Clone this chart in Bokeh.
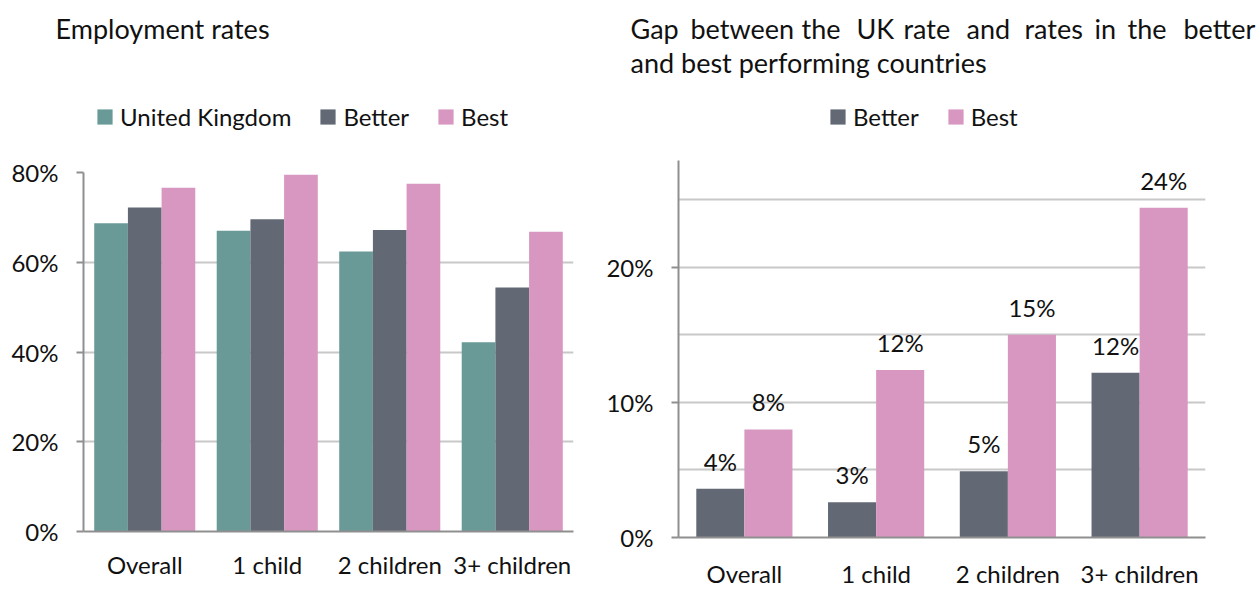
import re
from bokeh.plotting import figure
from bokeh.models import (FactorRange, Range1d, FixedTicker, PrintfTickFormatter,
                          Legend, LegendItem, Label, ColumnDataSource)
from bokeh.transform import dodge
from bokeh.core.properties import value
from bokeh.embed import file_html
from bokeh.resources import INLINE

# ---- data ----
categories = ["Overall", "1 child", "2 children", "3+ children"]
uk_rate = [68.7, 67.0, 62.4, 42.2]
better_rate = [72.2, 69.6, 67.2, 54.4]
best_rate = [76.6, 79.5, 77.5, 66.8]
better_gap = [3.6, 2.6, 4.9, 12.2]
best_gap = [8.0, 12.4, 15.0, 24.4]
better_gap_labels = ["4%", "3%", "5%", "12%"]
best_gap_labels = ["8%", "12%", "15%", "24%"]
left_ticks = [0, 20, 40, 60, 80]
right_ticks = [0, 10, 20]
right_grid = [5, 10, 15, 20, 25]
left_title = "Employment rates"
right_title_1 = "Gap between the UK rate and rates in the better"
right_title_2 = "and best performing countries"

FONT = "Lato"
FS = "24px"
TFS = "27px"
TEAL = "#699a98"
SLATE = "#626874"
PINK = "#d897c1"
GRID = "#c8c8c8"
AXIS = "#8f8f8f"
TXT = "#111111"
LW, RW, HH, PH = 600, 658, 148, 442
# word start offsets (px) used to justify the first line of the right sub-title
JUSTIFY_X = [0, 60, 171, 226, 273, 336, 394, 464, 497, 553]


def style(p):
    p.outline_line_color = None
    p.xgrid.grid_line_color = None
    p.ygrid.grid_line_color = GRID
    p.ygrid.grid_line_width = 2
    for ax in (p.xaxis, p.yaxis):
        ax.axis_line_color = AXIS
        ax.axis_line_width = 2
        ax.major_label_text_font = FONT
        ax.major_label_text_font_size = FS
        ax.major_label_text_color = TXT
        ax.minor_tick_line_color = None
    p.xaxis.major_tick_line_color = None
    p.xaxis.major_label_standoff = 12
    p.yaxis.major_tick_line_color = AXIS
    p.yaxis.major_tick_line_width = 2
    p.yaxis.major_tick_out = 7
    p.yaxis.major_tick_in = 0
    p.yaxis.major_label_standoff = 18
    p.yaxis.formatter = PrintfTickFormatter(format="%d%%")


legend_kw = dict(orientation="horizontal", padding=0, margin=0, spacing=27,
                 glyph_width=19, glyph_height=19, label_standoff=6, label_height=19,
                 label_text_font=FONT, label_text_font_size=FS, label_text_color=TXT,
                 label_text_baseline="middle",
                 border_line_color=None, background_fill_alpha=0)


def header(width, series, legend_x):
    h = figure(width=width, height=HH, x_range=Range1d(0, width), y_range=Range1d(0, HH),
               output_backend="svg", toolbar_location=None,
               min_border=0, min_border_left=0, min_border_right=0,
               min_border_top=0, min_border_bottom=0)
    h.axis.visible = False
    h.grid.visible = False
    h.outline_line_color = None
    # off-canvas swatch renderers, only used for the legend keys
    swatch = ColumnDataSource(dict(x=[-1000], top=[0]))
    items = []
    for name, color in series:
        r = h.vbar(x="x", top="top", width=1, source=swatch, fill_color=color, line_color=None)
        items.append(LegendItem(label=name, renderers=[r]))
    h.add_layout(Legend(items=items, location=(legend_x, 17), **legend_kw))
    return h


def add_text(h, x, y, t):
    h.add_layout(Label(x=x, y=y, text=t, text_font=FONT, text_font_size=TFS,
                       text_color=TXT, text_baseline="middle"))


hdr1 = header(LW, [("United Kingdom", TEAL), ("Better", SLATE), ("Best", PINK)], 95)
add_text(hdr1, 55, 120, left_title)
hdr2 = header(RW, [("Better", SLATE), ("Best", PINK)], 228)
for dx, word in zip(JUSTIFY_X, right_title_1.split(" ")):
    add_text(hdr2, 30 + dx, 120, word)
add_text(hdr2, 30, 86, right_title_2)

# ---- left chart ----
src1 = ColumnDataSource(dict(cat=categories, uk=uk_rate, better=better_rate, best=best_rate))
p1 = figure(width=LW, height=PH, x_range=FactorRange(factors=categories, range_padding=0),
            y_range=Range1d(0, 80), output_backend="svg", toolbar_location=None,
            min_border_left=83, min_border_right=27, min_border_top=24, min_border_bottom=59)
style(p1)
p1.yaxis.ticker = FixedTicker(ticks=left_ticks)
w1 = 0.275
p1.vbar(x=dodge("cat", -w1, range=p1.x_range), top="uk", width=w1, source=src1,
        fill_color=TEAL, line_color=None)
p1.vbar(x=dodge("cat", 0, range=p1.x_range), top="better", width=w1, source=src1,
        fill_color=SLATE, line_color=None)
p1.vbar(x=dodge("cat", w1, range=p1.x_range), top="best", width=w1, source=src1,
        fill_color=PINK, line_color=None)

# ---- right chart ----
src2 = ColumnDataSource(dict(cat=categories, better=better_gap, best=best_gap,
                             better_lab=better_gap_labels, best_lab=best_gap_labels))
p2 = figure(width=RW, height=PH, x_range=FactorRange(factors=categories, range_padding=0),
            y_range=Range1d(0, 27.9), output_backend="svg", toolbar_location=None,
            min_border_left=78, min_border_right=53, min_border_top=12, min_border_bottom=45)
style(p2)
p2.xaxis.major_label_standoff = 15
p2.yaxis.ticker = FixedTicker(ticks=right_ticks)
p2.ygrid.ticker = FixedTicker(ticks=right_grid)
w2 = 0.365
p2.vbar(x=dodge("cat", -w2 / 2, range=p2.x_range), top="better", width=w2, source=src2,
        fill_color=SLATE, line_color=None)
p2.vbar(x=dodge("cat", w2 / 2, range=p2.x_range), top="best", width=w2, source=src2,
        fill_color=PINK, line_color=None)
p2.text(x=dodge("cat", -w2 / 2, range=p2.x_range), y="better", text="better_lab", source=src2,
        text_align="center", text_baseline="bottom", y_offset=-13,
        text_font=value(FONT), text_font_size=FS, text_color=TXT)
p2.text(x=dodge("cat", w2 / 2, range=p2.x_range), y="best", text="best_lab", source=src2,
        text_align="center", text_baseline="bottom", y_offset=-13,
        text_font=value(FONT), text_font_size=FS, text_color=TXT)

html = file_html([hdr1, p1, hdr2, p2], INLINE)
css = ("<style>html, body { margin:0 !important; padding:0 !important; overflow:hidden !important; }"
       "body { display:grid !important; grid-template-columns:%dpx %dpx !important;"
       " grid-template-rows:%dpx %dpx !important; grid-auto-flow:column !important; }"
       "</style>" % (LW, RW, HH, PH))
if "</head>" in html:
    html = html.replace("</head>", css + "</head>", 1)
else:
    html = re.sub(r"(<body[^>]*>)", r"\1" + css, html, count=1)
open("out.html", "w").write(html)
